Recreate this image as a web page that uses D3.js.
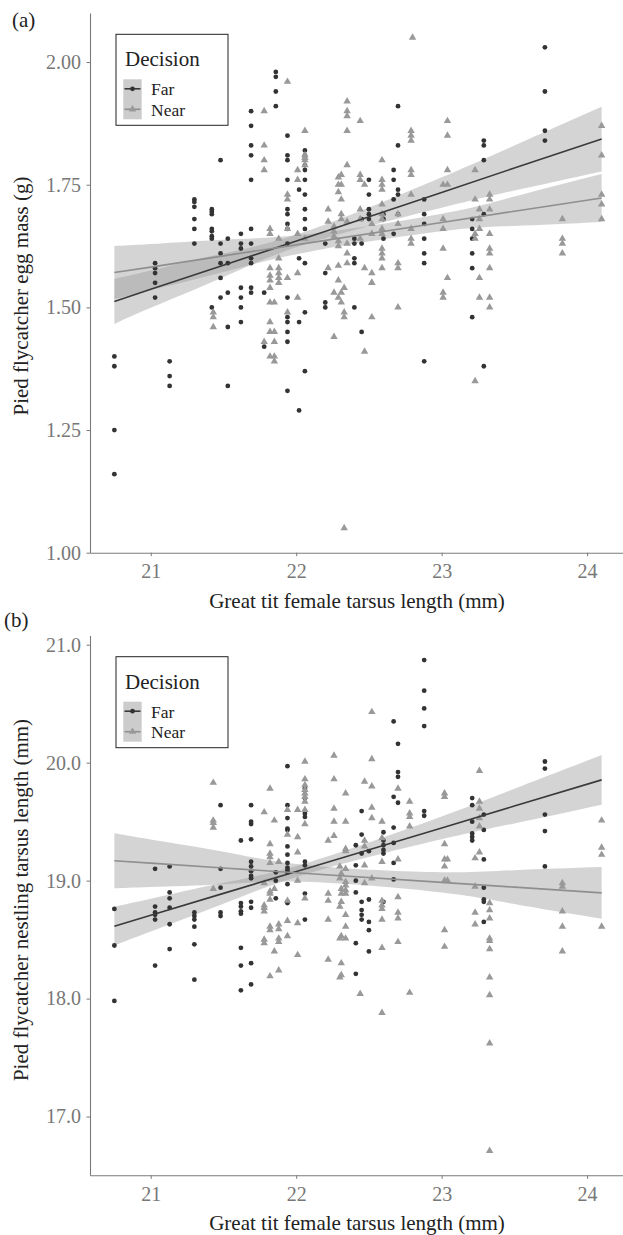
<!DOCTYPE html>
<html>
<head>
<meta charset="utf-8">
<script src="https://cdn.jsdelivr.net/npm/d3@7/dist/d3.min.js"></script>
<style>
  body { margin: 0; background: #fff; }
  svg text { font-family: "Liberation Serif", "DejaVu Serif", serif; }
</style>
</head>
<body>
<svg id="chart" width="623" height="1235"></svg>
<script>
// ---- data: [great tit tarsus, [pied flycatcher values...]] ----
const groups = ["Far", "Near"];
const xTicks = [21, 22, 23, 24];
const eggTicks = [1.00, 1.25, 1.50, 1.75, 2.00];
const tarsusTicks = [17.0, 18.0, 19.0, 20.0, 21.0];

// (a) egg mass (g)
const eggFar = [
  [20.75, [1.40, 1.38, 1.25, 1.16]],
  [21.03, [1.59, 1.58, 1.57, 1.55, 1.52]],
  [21.13, [1.39, 1.36, 1.34]],
  [21.30, [1.72, 1.715, 1.705, 1.68, 1.66, 1.63]],
  [21.42, [1.70, 1.695, 1.69, 1.66, 1.655, 1.645, 1.64, 1.50]],
  [21.48, [1.80, 1.63, 1.61, 1.59, 1.56, 1.52]],
  [21.53, [1.64, 1.59, 1.53, 1.46, 1.34]],
  [21.62, [1.65, 1.63, 1.62, 1.54, 1.52, 1.50, 1.47]],
  [21.69, [1.90, 1.87, 1.83, 1.81, 1.76, 1.66, 1.63, 1.60, 1.59, 1.54, 1.53]],
  [21.78, [1.53, 1.42]],
  [21.86, [1.98, 1.97, 1.94, 1.91]],
  [21.94, [1.85, 1.81, 1.80, 1.76, 1.70, 1.69, 1.67, 1.66, 1.63, 1.52, 1.48, 1.47, 1.45, 1.43, 1.33]],
  [22.02, [1.74, 1.60, 1.47, 1.29]],
  [22.06, [1.82, 1.81, 1.79, 1.78, 1.76, 1.73, 1.70, 1.68, 1.66, 1.59, 1.49, 1.37]],
  [22.20, [1.63, 1.57, 1.51, 1.50]],
  [22.40, [1.64, 1.63, 1.60, 1.59, 1.50]],
  [22.45, [1.68, 1.63, 1.45]],
  [22.50, [1.76, 1.73, 1.70, 1.69, 1.68]],
  [22.60, [1.69, 1.68, 1.64]],
  [22.67, [1.78, 1.76, 1.72, 1.65]],
  [22.70, [1.91, 1.83, 1.74, 1.73, 1.69]],
  [22.88, [1.72, 1.69, 1.67, 1.64, 1.61, 1.59, 1.39]],
  [23.21, [1.68, 1.66, 1.64, 1.61, 1.58, 1.48]],
  [23.29, [1.84, 1.83, 1.80, 1.69, 1.38]],
  [23.71, [2.03, 1.94, 1.86, 1.84]]
];
const eggNear = [
  [21.43, [1.49, 1.48, 1.46]],
  [21.78, [1.90, 1.83, 1.80, 1.78, 1.43]],
  [21.82, [1.66, 1.65, 1.58, 1.565, 1.555, 1.54, 1.51, 1.47, 1.45, 1.40]],
  [21.85, [1.51, 1.45, 1.43, 1.40, 1.39]],
  [21.88, [1.64, 1.60, 1.58, 1.57, 1.56, 1.55]],
  [21.94, [1.96, 1.73, 1.72, 1.66, 1.56, 1.49]],
  [22.01, [1.78, 1.76, 1.65, 1.57, 1.52]],
  [22.06, [1.86, 1.81, 1.805, 1.80, 1.79, 1.64]],
  [22.22, [1.70, 1.675, 1.58]],
  [22.26, [1.665, 1.655, 1.645, 1.53, 1.44]],
  [22.29, [1.765, 1.75, 1.735, 1.635, 1.625, 1.585, 1.555, 1.52]],
  [22.31, [1.77, 1.75, 1.72, 1.69, 1.68, 1.53, 1.51]],
  [22.33, [1.54, 1.49, 1.48, 1.05]],
  [22.35, [1.92, 1.90, 1.89, 1.86, 1.79, 1.675, 1.63, 1.61, 1.59]],
  [22.44, [1.88, 1.77, 1.76, 1.70, 1.68, 1.64]],
  [22.47, [1.75, 1.58, 1.41]],
  [22.52, [1.67, 1.65, 1.57, 1.55, 1.55, 1.48]],
  [22.59, [1.80, 1.76, 1.75, 1.74, 1.71, 1.69, 1.68, 1.66, 1.65, 1.62, 1.61, 1.60, 1.58]],
  [22.70, [1.69, 1.67, 1.59, 1.58, 1.50]],
  [22.79, [1.86, 1.85, 1.84, 1.78, 1.77, 1.73, 1.66, 1.64, 1.63]],
  [22.80, [2.05]],
  [23.01, [1.75, 1.68, 1.66, 1.62, 1.53, 1.52]],
  [23.04, [1.88, 1.85, 1.78, 1.75, 1.56]],
  [23.23, [1.78, 1.72, 1.65, 1.64, 1.35]],
  [23.26, [1.70, 1.68, 1.66, 1.56, 1.52]],
  [23.33, [1.73, 1.72, 1.70, 1.65, 1.62, 1.61, 1.58, 1.52, 1.50]],
  [23.83, [1.68, 1.64, 1.63, 1.61]],
  [24.10, [1.87, 1.81, 1.73, 1.71, 1.68]]
];

// (b) nestling tarsus length (mm)
const tarsusFar = [
  [20.75, [18.76, 18.45, 17.98]],
  [21.03, [19.10, 18.78, 18.73, 18.71, 18.67, 18.28]],
  [21.13, [19.12, 18.90, 18.85, 18.77, 18.63, 18.42]],
  [21.30, [18.73, 18.70, 18.67, 18.61, 18.46, 18.16]],
  [21.48, [19.64, 19.10, 18.94, 18.73, 18.70]],
  [21.62, [19.34, 18.81, 18.78, 18.74, 18.72, 18.43, 18.28, 18.07]],
  [21.69, [19.64, 19.50, 19.48, 19.35, 19.16, 19.12, 19.08, 19.04, 19.02, 18.82, 18.77, 18.30, 18.12]],
  [21.86, [19.07, 19.00, 18.85]],
  [21.94, [19.97, 19.64, 19.53, 19.44, 19.43, 19.29, 19.22, 19.15, 19.11, 19.09, 19.07, 18.97, 18.82, 18.81]],
  [22.06, [19.78, 19.70, 19.57, 19.54, 19.16, 19.13, 18.89, 18.67]],
  [22.41, [19.30, 19.13, 19.00, 18.90, 18.47, 18.21]],
  [22.45, [19.59, 19.39, 19.23, 18.82, 18.75, 18.71, 18.67]],
  [22.50, [19.25, 18.84, 18.65, 18.58, 18.40]],
  [22.60, [19.41, 19.34, 19.30, 19.26, 19.23, 18.82]],
  [22.67, [20.35, 19.71, 19.45, 19.32, 19.15, 19.01]],
  [22.70, [20.16, 19.92, 19.88, 19.66]],
  [22.88, [20.87, 20.61, 20.46, 20.31, 19.59, 19.55]],
  [23.21, [19.70, 19.64, 19.50, 19.40, 19.37, 19.34]],
  [23.29, [19.56, 19.43, 19.18, 18.94, 18.84, 18.82, 18.65]],
  [23.71, [20.01, 19.95, 19.56, 19.42, 19.12]]
];
const tarsusNear = [
  [21.43, [19.83, 19.51, 19.49, 19.45, 18.93]],
  [21.78, [19.58, 18.98, 18.79, 18.77, 18.74, 18.50, 18.47]],
  [21.82, [19.78, 19.31, 19.23, 19.20, 19.15, 18.91, 18.89, 18.84, 18.61, 18.58, 18.19]],
  [21.85, [19.51, 18.93, 18.40]],
  [21.88, [19.16, 18.63, 18.59, 18.51, 18.48, 18.24]],
  [21.94, [19.60, 19.39, 18.83, 18.66, 18.53]],
  [22.01, [19.60, 19.37, 19.24, 19.00, 18.64, 18.37]],
  [22.06, [20.01, 19.86, 19.81, 19.77, 19.74, 19.71, 19.67, 19.60, 19.48, 18.85]],
  [22.22, [19.34, 18.89, 18.83, 18.67, 18.33]],
  [22.26, [20.06, 19.86, 19.61, 19.50, 19.38]],
  [22.30, [19.12, 19.02, 18.78, 18.51, 18.18]],
  [22.31, [19.06, 18.93, 18.89, 18.82, 18.53, 18.30, 18.20]],
  [22.34, [19.74, 19.50, 19.27, 19.25, 19.10, 18.99, 18.96, 18.92, 18.89, 18.71, 18.61, 18.51]],
  [22.44, [18.04]],
  [22.47, [19.84, 19.34, 19.29, 19.13, 18.98]],
  [22.52, [20.43, 20.03, 19.80, 19.62, 19.53, 19.02]],
  [22.59, [19.50, 19.36, 19.16, 18.83, 18.79, 18.76, 18.67, 18.43, 17.88]],
  [22.70, [19.78, 19.18, 18.86, 18.73, 18.68, 18.48]],
  [22.78, [19.67, 19.57, 19.54, 19.46, 18.05]],
  [23.02, [19.74, 19.71, 19.31, 19.18, 19.12, 19.00, 18.58, 18.44]],
  [23.04, [19.18, 19.00]],
  [23.23, [19.19, 18.95, 18.73, 18.63]],
  [23.26, [19.93, 19.67, 19.61, 19.53, 19.46, 19.24]],
  [23.33, [18.81, 18.75, 18.68, 18.51, 18.49, 18.42, 18.18, 18.03, 17.62, 16.71]],
  [23.83, [18.98, 18.95, 18.74, 18.61, 18.40]],
  [24.10, [19.51, 19.28, 19.22, 18.61]]
];

// linear fits with 95% band, read at these tarsus values
const fitX = [20.75, 21.0, 21.5, 22.1, 23.0, 23.5, 24.1];
const eggFarFit = [1.512, 1.537, 1.586, 1.645, 1.734, 1.784, 1.843];
const eggFarSe = [0.046, 0.038, 0.024, 0.013, 0.031, 0.046, 0.066];
const eggNearFit = [1.571, 1.582, 1.605, 1.632, 1.673, 1.696, 1.723];
const eggNearSe = [0.054, 0.047, 0.033, 0.018, 0.018, 0.030, 0.049];
const tarsusFarFit = [18.614, 18.707, 18.892, 19.114, 19.447, 19.632, 19.854];
const tarsusFarSe = [0.165, 0.139, 0.089, 0.047, 0.097, 0.147, 0.210];
const tarsusNearFit = [19.168, 19.148, 19.107, 19.058, 18.985, 18.945, 18.896];
const tarsusNearSe = [0.233, 0.201, 0.138, 0.070, 0.086, 0.144, 0.220];

const colors = { Far: "#333333", Near: "#999999" };
const serif = '"Liberation Serif", "DejaVu Serif", serif';

const svg = d3.select("#chart");

function flat(cols) {
  return cols.flatMap(([x, ys]) => ys.map(y => ({ x, y })));
}
function expand(e) {
  const d = (e[1] - e[0]) * 0.05;
  return [e[0] - d, e[1] + d];
}
const tri = d3.symbol().type(d3.symbolTriangle).size(24);

function drawPanel(p) {
  const pts = { Far: flat(p.far), Near: flat(p.near) };
  const all = pts.Far.concat(pts.Near);

  const x = d3.scaleLinear().domain(expand(d3.extent(all, d => d.x))).range([90, 626]);
  const y = d3.scaleLinear().domain(expand(d3.extent(all, d => d.y))).range([p.bottom, p.top]);

  const g = svg.append("g");

  // confidence bands
  const band = d3.area()
    .x(d => x(d.x))
    .y0(d => y(d.fit - d.se))
    .y1(d => y(d.fit + d.se))
    .curve(d3.curveNatural);
  const fits = {
    Far: fitX.map((v, i) => ({ x: v, fit: p.farFit[i], se: p.farSe[i] })),
    Near: fitX.map((v, i) => ({ x: v, fit: p.nearFit[i], se: p.nearSe[i] }))
  };
  groups.forEach(k => {
    g.append("path").datum(fits[k])
      .attr("d", band)
      .attr("fill", "#999")
      .attr("fill-opacity", 0.42);
  });

  // points
  g.append("g").selectAll("circle")
    .data(pts.Far)
    .join("circle")
    .attr("cx", d => x(d.x))
    .attr("cy", d => y(d.y))
    .attr("r", 2.4)
    .attr("fill", colors.Far);
  g.append("g").selectAll("path")
    .data(pts.Near)
    .join("path")
    .attr("d", tri)
    .attr("transform", d => `translate(${x(d.x)},${y(d.y)})`)
    .attr("fill", colors.Near);

  // fitted lines
  const line = d3.line().x(d => x(d.x)).y(d => y(d.fit));
  groups.forEach(k => {
    g.append("path").datum(fits[k])
      .attr("d", line)
      .attr("fill", "none")
      .attr("stroke", k === "Far" ? "#3a3a3a" : "#8f8f8f")
      .attr("stroke-width", 1.6);
  });

  // axes
  const xAxis = g.append("g")
    .attr("transform", `translate(0,${p.bottom})`)
    .call(d3.axisBottom(x).tickValues(xTicks).tickFormat(d3.format("d"))
      .tickSize(3.5).tickSizeOuter(0).tickPadding(7.8));
  const yAxis = g.append("g")
    .attr("transform", "translate(90,0)")
    .call(d3.axisLeft(y).tickValues(p.yTicks).tickFormat(d3.format(p.fmt))
      .tickSize(3.5).tickSizeOuter(0).tickPadding(5.5));
  [xAxis, yAxis].forEach(a => {
    a.attr("font-family", serif);
    a.select(".domain").attr("stroke", "#7a7a7a").attr("stroke-width", 1.1);
    a.selectAll(".tick line").attr("stroke", "#7a7a7a");
    a.selectAll(".tick text")
      .attr("fill", "#777")
      .style("font-size", "20px")
      .style("font-family", serif);
  });

  // titles
  g.append("text")
    .attr("x", 357)
    .attr("y", p.bottom + 55)
    .attr("text-anchor", "middle")
    .attr("fill", "#222")
    .style("font-size", "21px")
    .text("Great tit female tarsus length (mm)");
  g.append("text")
    .attr("transform", `translate(28,${p.yTitleMid}) rotate(-90)`)
    .attr("text-anchor", "middle")
    .attr("fill", "#222")
    .style("font-size", "21px")
    .text(p.yTitle);
  g.append("text")
    .attr("x", p.labelX)
    .attr("y", p.labelY)
    .attr("fill", "#222")
    .style("font-size", "21px")
    .text(p.label);

  // legend
  const lg = g.append("g").attr("transform", `translate(116,${p.legendTop})`);
  lg.append("rect")
    .attr("width", 112).attr("height", 91)
    .attr("fill", "#fff").attr("stroke", "#222").attr("stroke-width", 1);
  lg.append("text").attr("x", 9).attr("y", 32)
    .attr("fill", "#222").style("font-size", "21px").text("Decision");
  lg.append("rect")
    .attr("x", 7.3).attr("y", 45).attr("width", 18.4).attr("height", 40)
    .attr("fill", "#999").attr("fill-opacity", 0.5);
  groups.forEach((k, i) => {
    const cy = 54.5 + i * 20.5;
    lg.append("line")
      .attr("x1", 8.5).attr("x2", 24.5).attr("y1", cy).attr("y2", cy)
      .attr("stroke", k === "Far" ? "#3a3a3a" : "#8f8f8f").attr("stroke-width", 1.6);
    if (k === "Far") {
      lg.append("circle").attr("cx", 16.5).attr("cy", cy).attr("r", 2.4).attr("fill", colors.Far);
    } else {
      lg.append("path").attr("d", tri).attr("transform", `translate(16.5,${cy})`).attr("fill", colors.Near);
    }
    lg.append("text").attr("x", 35).attr("y", cy + 6.5)
      .attr("fill", "#222").style("font-size", "17.5px").text(k);
  });
}

drawPanel({
  far: eggFar, near: eggNear,
  farFit: eggFarFit, farSe: eggFarSe, nearFit: eggNearFit, nearSe: eggNearSe,
  top: 13, bottom: 552.7,
  yTicks: eggTicks, fmt: ".2f",
  yTitle: "Pied flycatcher egg mass (g)", yTitleMid: 296,
  label: "(a)", labelX: 12, labelY: 27,
  legendTop: 34.3
});

drawPanel({
  far: tarsusFar, near: tarsusNear,
  farFit: tarsusFarFit, farSe: tarsusFarSe, nearFit: tarsusNearFit, nearSe: tarsusNearSe,
  top: 635.5, bottom: 1175.3,
  yTicks: tarsusTicks, fmt: ".1f",
  yTitle: "Pied flycatcher nestling tarsus length (mm)", yTitleMid: 900,
  label: "(b)", labelX: 4, labelY: 627,
  legendTop: 656.7
});
</script>
</body>
</html>
